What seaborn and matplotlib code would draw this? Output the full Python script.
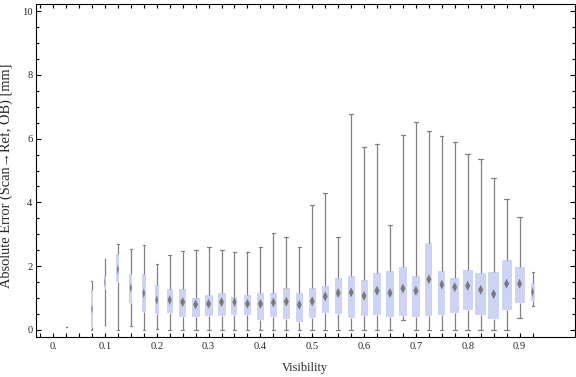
import numpy as np
import pandas as pd
import matplotlib
matplotlib.use("Agg")
import matplotlib.pyplot as plt
from matplotlib.ticker import MultipleLocator
import seaborn as sns

# ---- data (box-whisker per visibility bin) ----
vis = [0.025, 0.075, 0.1, 0.125, 0.15, 0.175, 0.2, 0.225, 0.25, 0.275,
       0.3, 0.325, 0.35, 0.375, 0.4, 0.425, 0.45, 0.475, 0.5, 0.525,
       0.55, 0.575, 0.6, 0.625, 0.65, 0.675, 0.7, 0.725, 0.75, 0.775,
       0.8, 0.825, 0.85, 0.875, 0.9, 0.925]
w_lo = [0.10, 0.00, 0.12, 0.00, 0.11, 0.00, 0.03, 0.00, 0.00, 0.00,
        0.00, 0.00, 0.00, 0.00, 0.00, 0.00, 0.00, 0.00, 0.00, 0.00,
        0.00, 0.00, 0.00, 0.00, 0.00, 0.31, 0.00, 0.00, 0.00, 0.00,
        0.00, 0.00, 0.00, 0.00, 0.375, 0.75]
q1 = [0.10, 0.08, 1.30, 1.51, 0.85, 0.57, 0.51, 0.54, 0.42, 0.42,
      0.44, 0.44, 0.47, 0.47, 0.31, 0.41, 0.34, 0.26, 0.39, 0.54,
      0.51, 0.375, 0.44, 0.47, 0.41, 0.44, 0.41, 0.44, 0.47, 0.54,
      0.635, 0.47, 0.34, 0.635, 0.85, 0.91]
med = [0.10, 0.65, 1.50, 1.90, 1.32, 1.15, 0.94, 0.94, 0.875, 0.80,
       0.82, 0.875, 0.875, 0.82, 0.82, 0.86, 0.89, 0.79, 0.90, 1.05,
       1.16, 1.18, 1.07, 1.23, 1.16, 1.30, 1.23, 1.59, 1.42, 1.34,
       1.385, 1.26, 1.125, 1.45, 1.45, 1.19]
q3 = [0.10, 1.24, 1.69, 2.38, 1.75, 1.75, 1.41, 1.28, 1.28, 1.00,
      1.09, 1.16, 1.03, 1.09, 1.16, 1.16, 1.31, 1.16, 1.31, 1.375,
      1.625, 1.69, 1.56, 1.78, 1.84, 1.97, 1.69, 2.72, 1.84, 1.625,
      1.875, 1.78, 1.81, 2.19, 1.97, 1.47]
w_hi = [0.10, 1.53, 2.25, 2.69, 2.53, 2.66, 2.08, 2.36, 2.47, 2.50,
        2.59, 2.52, 2.46, 2.46, 2.59, 3.05, 2.93, 2.59, 3.93, 4.31,
        2.93, 6.77, 5.74, 5.83, 3.30, 6.125, 6.52, 6.24, 6.09, 5.90,
        5.53, 5.36, 4.77, 4.11, 3.55, 1.83]
# box widths as drawn (pixels)
box_px = [2, 2, 1.5, 3, 3, 4, 4, 6, 7, 8,
          8, 8, 6, 7, 7.5, 7, 7.3, 7, 7.3, 7,
          7, 7, 7, 7.7, 7.7, 7.3, 8, 7, 6.7, 9,
          10, 11, 11, 10, 10, 4]

x_major = [0.0, 0.1, 0.2, 0.3, 0.4, 0.5, 0.6, 0.7, 0.8, 0.9]
x_labels = ["0.", "0.1", "0.2", "0.3", "0.4", "0.5", "0.6", "0.7", "0.8", "0.9"]
y_major = [0, 2, 4, 6, 8, 10]

BOX_COLOR = "#ccd3f5"
LINE_COLOR = "#808080"
MED_COLOR = "#7a7a7a"
PX_PER_UNIT = 518.0

sns.set_style("ticks")
plt.rcParams["font.family"] = ["Liberation Serif", "DejaVu Serif"]
plt.rcParams["axes.linewidth"] = 0.8
plt.rcParams["axes.edgecolor"] = "black"

fig = plt.figure(figsize=(5.76, 3.77), dpi=100)
ax = fig.add_axes([36 / 576, 40 / 377, 539 / 576, 333 / 377])

for v, lo, a, m, b, hi, px in zip(vis, w_lo, q1, med, q3, w_hi, box_px):
    grp = pd.DataFrame({"vis": v, "err": [lo, a, m, b, hi]})
    sns.boxplot(data=grp, x="vis", y="err", native_scale=True, orient="x",
                whis=(0, 100), width=px / PX_PER_UNIT, color=BOX_COLOR,
                saturation=1, linecolor=LINE_COLOR, linewidth=0.9,
                showfliers=False, boxprops={"edgecolor": "none", "linewidth": 0},
                medianprops={"visible": False}, ax=ax)
    # median diamond
    hw = min(5.0, 0.7 * px) / 10.0
    dh = 10.0 if b > a else 2.5
    sns.scatterplot(x=[v], y=[m], marker=[(-hw, 0), (0, 1), (hw, 0), (0, -1)],
                    s=(dh * 0.72) ** 2, color=MED_COLOR, edgecolor="none",
                    linewidth=0, zorder=4, ax=ax, legend=False)

ax.set_xlim(-0.033, 1.007)
ax.set_ylim(-0.22, 10.22)

ax.set_xticks(x_major)
ax.set_xticklabels(x_labels)
ax.set_xticks(np.arange(-0.025, 0.93, 0.025), minor=True)
ax.set_yticks(y_major)
ax.set_yticklabels([str(t) for t in y_major])
ax.yaxis.set_minor_locator(MultipleLocator(0.5))

ax.tick_params(which="both", direction="in", top=True, right=True,
               width=0.8, color="black", labelsize=7.6)
ax.tick_params(axis="x", which="both", length=2.9, pad=3.5)
ax.tick_params(axis="y", which="major", length=3.6, pad=2.5)
ax.tick_params(axis="y", which="minor", length=2.2)

for side in ["top", "right", "bottom", "left"]:
    ax.spines[side].set_visible(True)
    ax.spines[side].set_linewidth(0.8)

ax.set_xlabel("Visibility", fontsize=8.8)
ax.set_ylabel("Absolute Error (Scan\u2192Ref, OB) [mm]", fontsize=10.4)
ax.xaxis.set_label_coords(0.498, -0.075)
ax.yaxis.set_label_coords(-0.043, 0.485)

fig.savefig("out.png", dpi=100)
